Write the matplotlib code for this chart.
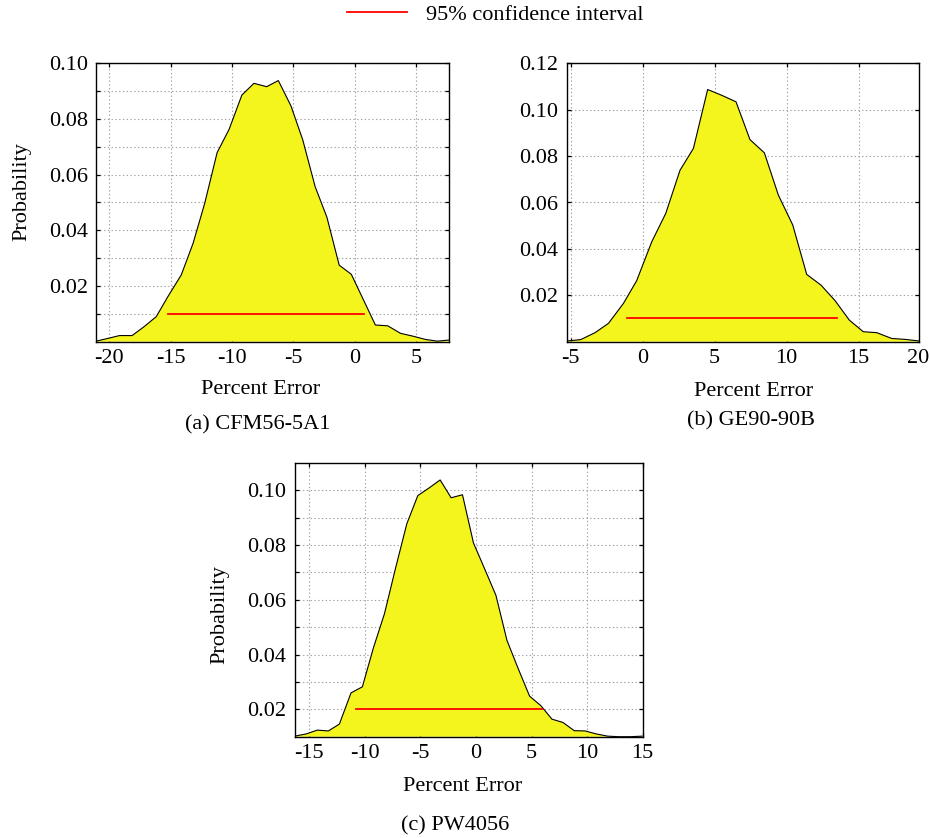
import matplotlib
matplotlib.use("Agg")
import matplotlib.pyplot as plt
import matplotlib.transforms as mtransforms
from matplotlib.ticker import FormatStrFormatter, FixedLocator

plt.rcParams['font.family'] = ['Liberation Serif', 'DejaVu Serif']
plt.rcParams['font.size'] = 16
plt.rcParams['axes.unicode_minus'] = False

# (a) CFM56-5A1
xa = [-21.09, -20.1, -19.18, -18.15, -17.17, -16.18, -15.23, -14.14, -13.18, -12.23,
      -11.22, -10.24, -9.2, -8.22, -7.18, -6.23, -5.2, -4.24, -3.23, -2.27,
      -1.27, -0.28, 0.7, 1.68, 2.69, 3.73, 4.73, 5.77, 6.73, 7.68]
ya = [0.0002, 0.0012, 0.0022, 0.0022, 0.0054, 0.009, 0.0162, 0.024, 0.0353, 0.0497,
      0.0679, 0.0763, 0.0886, 0.0928, 0.0916, 0.0938, 0.0847, 0.0725, 0.0557, 0.0447,
      0.0275, 0.0242, 0.0151, 0.006, 0.0057, 0.003, 0.002, 0.0008, 0.0002, 0.0006]
ci_a = [-15.23, 0.73]
ci_a_y = 0.01

# (b) GE90-90B
xb = [-5.28, -4.31, -3.31, -2.38, -1.34, -0.42, 0.63, 1.6, 2.59, 3.52,
      4.51, 5.49, 6.48, 7.45, 8.45, 9.42, 10.42, 11.39, 12.38, 13.36,
      14.35, 15.32, 16.25, 17.29, 18.22, 19.21]
yb = [0.0003, 0.0009, 0.0039, 0.0079, 0.0165, 0.0263, 0.0431, 0.0553, 0.0739, 0.0833,
      0.1087, 0.1062, 0.1034, 0.0871, 0.0814, 0.0632, 0.0503, 0.029, 0.0244, 0.0177,
      0.0093, 0.0043, 0.0039, 0.0014, 0.001, 0.0003]
ci_b = [-1.11, 13.52]
ci_b_y = 0.01

# (c) PW4056
xc = [-16.32, -15.3, -14.28, -13.29, -12.3, -11.25, -10.23, -9.23, -8.24, -7.22,
      -6.23, -5.24, -4.22, -3.23, -2.24, -1.22, -0.23, 0.77, 1.79, 2.78,
      3.77, 4.82, 5.84, 6.83, 7.82, 8.84, 9.83, 10.83, 11.85, 12.84, 13.89, 14.94]
yc = [0.0102, 0.011, 0.0124, 0.0121, 0.0146, 0.026, 0.0282, 0.0425, 0.0549, 0.0719,
      0.0877, 0.098, 0.1008, 0.1037, 0.0972, 0.0983, 0.0807, 0.0713, 0.0616, 0.0452,
      0.0351, 0.0248, 0.0213, 0.0164, 0.0152, 0.0122, 0.0121, 0.011, 0.0102, 0.01, 0.01, 0.0102]
ci_c = [-10.8, 5.93]
ci_c_y = 0.02

W, H = 930, 838
fig = plt.figure(figsize=(W / 100, H / 100), dpi=100)


def px_axes(l, t, r, b):
    return fig.add_axes([l / W, 1 - b / H, (r - l) / W, (b - t) / H])


def panel(ax, x, y, ci, ci_y, ylim, xticks, yticks, yminor, xlab_pos, ylab_pos):
    ax.fill_between(x, y, ylim[0], facecolor='#f5f51e', edgecolor='none', zorder=1)
    ax.plot(x, y, color='black', lw=0.8, zorder=2)
    line, = ax.plot(ci, [ci_y, ci_y], color='#ff0000', lw=1.3, zorder=3,
                    label='95% confidence interval')
    ax.set_xlim(x[0], x[-1])
    ax.set_ylim(*ylim)
    ax.set_xticks(xticks)
    ax.set_yticks(yticks)
    if yminor:
        ax.yaxis.set_minor_locator(FixedLocator(yminor))
    ax.xaxis.set_major_formatter(FormatStrFormatter('%d'))
    ax.yaxis.set_major_formatter(FormatStrFormatter('%.2f'))
    ax.set_axisbelow(True)
    ax.grid(True, which='both', color='#a0a0a0', lw=0.8, linestyle=(0, (1.2, 2.2)))
    ax.tick_params(which='both', direction='in', top=True, right=True,
                   length=3, width=0.9, labelsize=16)
    ax.tick_params(axis='x', pad=5)
    ax.tick_params(axis='y', pad=6)
    for s in ax.spines.values():
        s.set_linewidth(1.0)
    ax.set_xlabel('Percent Error', fontsize=16, va='center')
    ax.xaxis.set_label_coords(*xlab_pos)
    ax.set_ylabel('Probability', fontsize=16, va='center')
    ax.yaxis.set_label_coords(*ylab_pos)
    return line


ax1 = px_axes(96, 63.3, 449, 341.7)
line = panel(ax1, xa, ya, ci_a, ci_a_y, (0, 0.10), [-20, -15, -10, -5, 0, 5],
             [0.02, 0.04, 0.06, 0.08, 0.10], [0.01, 0.03, 0.05, 0.07, 0.09],
             (0.467, -0.171), (-0.21, 0.539))

ax2 = px_axes(566.7, 63.3, 919.3, 341.7)
panel(ax2, xb, yb, ci_b, ci_b_y, (0, 0.12), [-5, 0, 5, 10, 15],
      [0.02, 0.04, 0.06, 0.08, 0.10, 0.12], None,
      (0.531, -0.18), (-0.21, 0.5))
ax2.set_ylabel('')
# last x label sits at the right edge of the panel
off = mtransforms.offset_copy(ax2.transAxes, fig=fig, y=-5, units='points')
ax2.text(0.996, 0, '20', transform=off, ha='center', va='top', fontsize=16)

ax3 = px_axes(294.7, 462.7, 642.7, 736.7)
panel(ax3, xc, yc, ci_c, ci_c_y, (0.01, 0.11), [-15, -10, -5, 0, 5, 10, 15],
      [0.02, 0.04, 0.06, 0.08, 0.10], [0.03, 0.05, 0.07, 0.09],
      (0.482, -0.1825), (-0.2147, 0.444))

fig.text(258 / W, 1 - 425 / H, '(a) CFM56-5A1', ha='center', va='center', fontsize=16)
fig.text(751 / W, 1 - 421 / H, '(b) GE90-90B', ha='center', va='center', fontsize=16)
fig.text(455 / W, 1 - 826 / H, '(c) PW4056', ha='center', va='center', fontsize=16)

fig.legend(handles=[line], loc='center', bbox_to_anchor=(495 / W, 1 - 15 / H),
           frameon=False, handlelength=2.7, handletextpad=0.84, fontsize=16)

fig.savefig('out.png', dpi=100)
